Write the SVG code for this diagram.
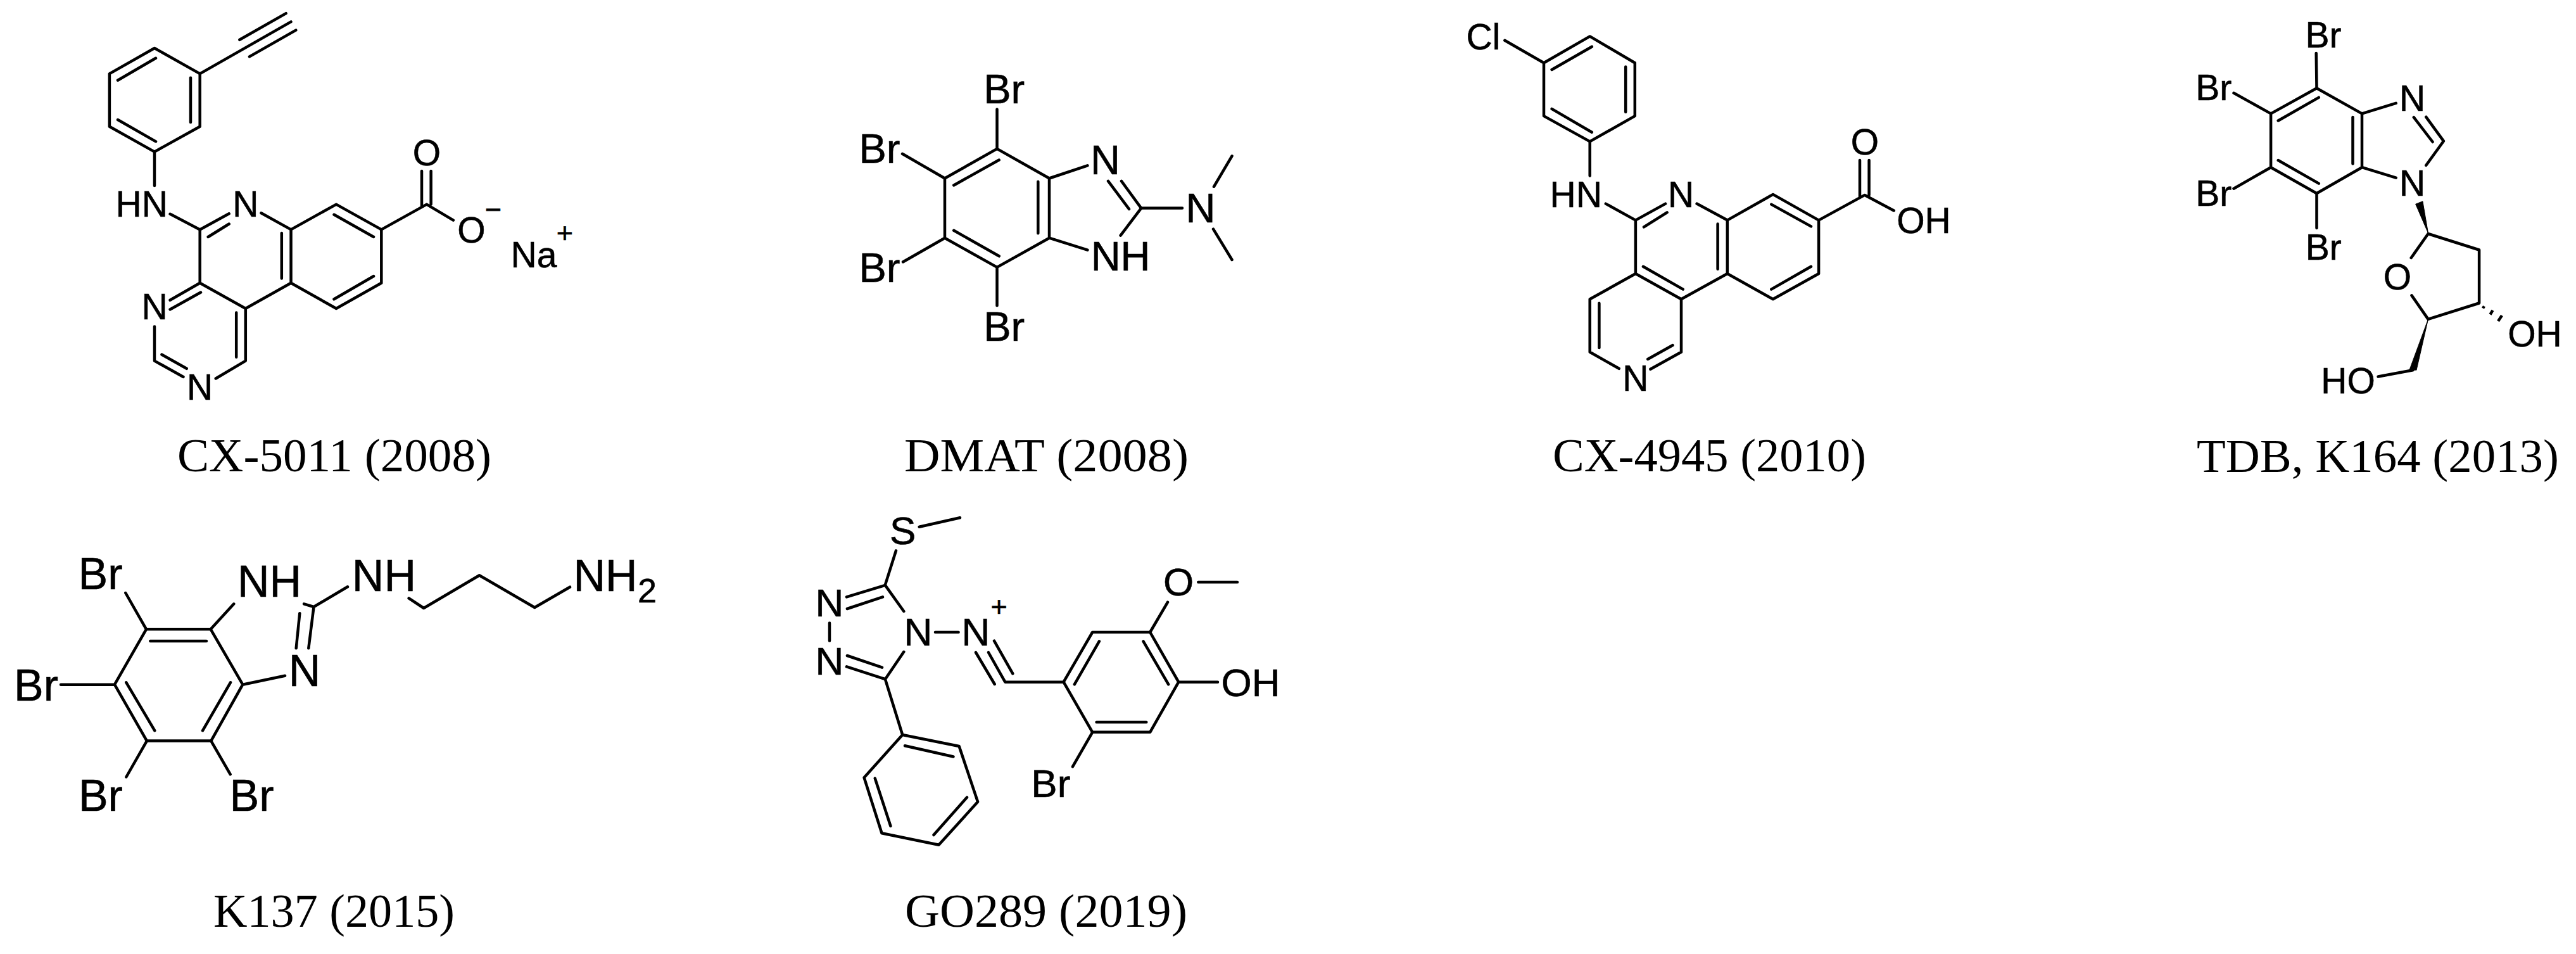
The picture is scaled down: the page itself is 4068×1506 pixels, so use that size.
<svg xmlns="http://www.w3.org/2000/svg" width="4068" height="1506" viewBox="0 0 4068 1506">
<style>
.b{fill:none;stroke:#000;stroke-width:4.5;stroke-linecap:round;stroke-linejoin:round}
.w{fill:#000;stroke:#000;stroke-width:1;stroke-linejoin:round}
text{fill:#000}
.a{font-family:"Liberation Sans",Arial,sans-serif;text-anchor:middle;stroke:#000;stroke-width:.6}
.s57{font-size:57px}.s65{font-size:65px}.s70{font-size:70px}.s62{font-size:62px}.s45{font-size:45px}.s54{font-size:54px}
.c{font-family:"Liberation Serif","Times New Roman",serif;font-size:75px}
</style>
<rect width="4068" height="1506" fill="#fff"/>
<g id="cx5011">
<path class="b" d="M244 76L315.7 116.4L315.7 199.8L244 239.6L172.9 199.8L172.9 116.4Z M186 126.7L246 91.8 M301 122.8L301 193 M186 189L246 223.4
M315.7 116.4L459.5 34.4 M378.4 62.8L451.6 21.1 M394 89.4L467.3 47.6 M244 239.6L244 293
M268.6 337.8L315.7 362.4L361.7 337.3 M328.7 374L361.7 353.5 M412.4 336.3L459.5 362.4L531 322.6L602.3 362.4L602.3 446.8L531 487L459.5 446.8L387.8 487L315.7 446.8L315.7 362.4
M459.5 362.4L459.5 446.8 M444.8 368L444.8 439.5 M527.5 338.8L590 374 M590 436L527.5 472.3
M602.3 362.4L673.8 322.6L715.8 347.6 M666 270L666 326 M680.6 270L680.6 322.6
M315.7 446.8L268.6 473.8 M317 461.5L268.6 488.5 M244 515.5L244 569.6L289.5 595 M255.5 559.7L294.7 581.8 M340.8 597.5L387.8 569.6L387.8 487 M373.2 493.5L373.2 563.7"/>
<text class="a s57" x="223.7" y="342">HN</text>
<text class="a s57" x="387.8" y="342">N</text>
<text class="a s57" x="673.8" y="261">O</text>
<text class="a s57" x="744.5" y="383">O</text>
<text class="a s45" x="779" y="346">−</text>
<text class="a s57" x="843" y="422">Na</text>
<text class="a s45" x="892" y="383">+</text>
<text class="a s57" x="244" y="503.6">N</text>
<text class="a s57" x="315.7" y="631">N</text>
<text class="c" x="280" y="744" textLength="496" lengthAdjust="spacingAndGlyphs">CX-5011 (2008)</text>
</g>
<g id="dmat">
<path class="b" d="M1574.5 234.9L1657 281.5L1657 375.7L1574.5 421.9L1492 375.7L1492 281.5Z M1574.5 172.4L1574.5 234.9 M1425 242.8L1492 281.5 M1426 413.5L1492 375.7 M1574.5 482.6L1574.5 421.9
M1506.2 292.5L1577.7 252.5 M1506.2 363.8L1577.7 404.3 M1639.3 286.8L1639.3 368.2
M1657 281.5L1717.4 261.3 M1657 375.7L1717.4 394.6 M1771 285.9L1802.2 328.6L1769.6 371.7 M1783 330L1750 285.9 M1802.2 328.6L1867 328.6 M1917 294.7L1945.5 246.3 M1916 361.6L1945.5 410"/>
<text class="a s65" x="1585.7" y="163">Br</text>
<text class="a s65" x="1389" y="256.5">Br</text>
<text class="a s65" x="1389" y="444.5">Br</text>
<text class="a s65" x="1585.7" y="538">Br</text>
<text class="a s65" x="1745.5" y="275">N</text>
<text class="a s65" x="1769.6" y="427">NH</text>
<text class="a s65" x="1896" y="351">N</text>
<text class="c" x="1428" y="744" textLength="449" lengthAdjust="spacingAndGlyphs">DMAT (2008)</text>
</g>
<g id="cx4945">
<path class="b" d="M2510.7 57.4L2581.8 99.2L2581.8 183.1L2510.7 223.4L2438 183.1L2438 99.2Z M2376.3 63.8L2438 99.2 M2450.6 110L2513.8 73.7 M2567.2 105.6L2567.2 176.8 M2450.6 171.9L2513.8 208.7 M2510.7 223.4L2510.7 277.4
M2535.8 321.6L2582.9 347.6L2630 321.6 M2596 358.4L2632.6 335.4 M2679.6 321.6L2727.8 347.6L2799.9 306.9L2872.1 347.6L2872.1 432L2799.9 472.3L2727.8 432L2727.8 347.6
M2712.6 353.5L2712.6 424.7 M2797.3 322.6L2860 357.4 M2797.3 456.6L2860 420.8
M2872.1 347.6L2944.8 307.9L2990.8 332.4 M2937 252.9L2937 311 M2951.6 252.9L2951.6 307.9
M2582.9 347.6L2582.9 432L2655 472.3L2727.8 432 M2594.9 420.8L2657.7 456.6 M2655 472.3L2655 555.8L2606.4 582.8 M2641.5 545L2602.2 567 M2556.7 581.8L2510.7 555.8L2510.7 472.3L2582.9 432 M2525.4 478.7L2525.4 549"/>
<text class="a s57" x="2342.3" y="78">Cl</text>
<text class="a s57" x="2488.7" y="327">HN</text>
<text class="a s57" x="2654.5" y="327">N</text>
<text class="a s57" x="2944.8" y="243.5">O</text>
<text class="a s57" x="3038" y="367.5">OH</text>
<text class="a s57" x="2582.9" y="616.5">N</text>
<text class="c" x="2452" y="744" textLength="495" lengthAdjust="spacingAndGlyphs">CX-4945 (2010)</text>
</g>
<g id="tdb">
<path class="b" d="M3658.5 139.2L3730 179.4L3730 264.2L3658.5 305.3L3586.1 264.2L3586.1 179.4Z M3657.7 84L3658.5 139.2 M3527.5 146.8L3586.1 179.4 M3527.5 297.7L3586.1 264.2 M3658.5 305.3L3658.5 360
M3597.7 190.5L3661.8 153.9 M3597.7 253L3661.8 289.6 M3715.5 185L3715.5 258.4
M3730 179.4L3783.7 162.9 M3730 264.2L3783.7 280.7 M3831.2 184.7L3858.9 222.7L3831.2 261 M3841.6 224L3811.8 185.2
M3807.7 407L3834.5 369L3915.1 394.5L3915.1 478.5L3834.5 503.9L3808.5 466.4 M3810.6 584.3L3755.6 594.5"/>
<path class="w" d="M3834.5 368L3814.7 322.2L3825.9 317.8Z"/>
<path class="w" d="M3834.5 503.9L3805.2 583.4L3816 584.3Z"/>
<path class="b" style="stroke-linecap:butt" d="M3923 483.4L3921 486.6 M3936.5 489.9L3932.5 496.5 M3951 498L3945 507"/>
<text class="a s57" x="3669" y="75">Br</text>
<text class="a s57" x="3495.7" y="158">Br</text>
<text class="a s57" x="3495.7" y="325">Br</text>
<text class="a s57" x="3669.2" y="409.7">Br</text>
<text class="a s57" x="3809.7" y="175">N</text>
<text class="a s57" x="3809.7" y="309">N</text>
<text class="a s57" x="3785.8" y="456.5">O</text>
<text class="a s57" x="4003" y="546.5">OH</text>
<text class="a s57" x="3708" y="620.5">HO</text>
<text class="c" x="3469" y="745" textLength="572" lengthAdjust="spacingAndGlyphs">TDB, K164 (2013)</text>
</g>
<g id="k137">
<path class="b" d="M231 993.3L332.7 993.3L383.3 1080.7L333.3 1169.6L231.9 1169.6L181 1080.7Z M237.3 1012L326 1012 M199.3 1077.3L244.3 1153.3 M364 1077.3L320 1153.3
M198.3 936L231 993.3 M96 1080.7L181 1080.7 M231.9 1169.6L199.4 1226.5 M333.3 1169.6L363.7 1222.3 M332.7 993.3L369.3 953.3
M480 953.3L495.5 958L549 926.3 M495.5 958L487.3 1023.3 M473.3 968.3L467.7 1023.3 M383.3 1080.7L450 1066.7 M645.6 944.4L669.2 960L757 908.2L844.3 959L900 926.7"/>
<text class="a s70" x="158.5" y="930">Br</text>
<text class="a s70" x="57" y="1106">Br</text>
<text class="a s70" x="158.9" y="1280">Br</text>
<text class="a s70" x="397.5" y="1280">Br</text>
<text class="a s70" x="425.5" y="941.7">NH</text>
<text class="a s70" x="606.4" y="932.7">NH</text>
<text class="a s70" x="481" y="1083">N</text>
<text class="a s70" x="956" y="932.7">NH</text>
<text class="a s54" x="1022" y="950.7">2</text>
<text class="c" x="337" y="1463" textLength="381" lengthAdjust="spacingAndGlyphs">K137 (2015)</text>
</g>
<g id="go289">
<path class="b" d="M1451.7 831.7L1516 817.3 M1415 869.3L1397.7 923.9 M1337 942.4L1397.9 923.9L1427.3 965 M1394 942.4L1337.9 961 M1310 983.6L1310 1011.6 M1337 1052.4L1397.9 1072.2L1427.3 1029 M1393 1053.6L1337.9 1035
M1477 998L1513.6 998 M1570 1011.7L1599.3 1063.3 M1561 1030L1587.3 1076.7L1679.6 1076.7 M1541 1030L1570.7 1080
M1679.6 1076.7L1725.2 998L1816.2 998L1861.2 1076.7L1816.2 1155.8L1725.2 1155.8Z M1696.8 1080.4L1735.9 1012.4 M1805.5 1012.4L1845.2 1080.4 M1731.6 1140L1810.3 1140
M1816.2 998L1844 950.6 M1892.3 918.9L1954 918.9 M1861.2 1076.7L1923 1076.7 M1725.2 1155.8L1694 1210.2
M1397.9 1072.2L1425.2 1160L1514.6 1178L1544.1 1265.8L1482.5 1333.8L1392.5 1315.3L1364.6 1227.5L1425.2 1160 M1429 1177.2L1505.5 1194.5 M1381.8 1228.7L1406.4 1304 M1527 1258.8L1474.5 1318"/>
<text class="a s62" x="1425.7" y="859">S</text>
<text class="a s62" x="1310" y="973">N</text>
<text class="a s62" x="1310" y="1064.5">N</text>
<text class="a s62" x="1450" y="1018.7">N</text>
<text class="a s62" x="1541" y="1018.7">N</text>
<text class="a s45" x="1577.7" y="973">+</text>
<text class="a s62" x="1861.2" y="940">O</text>
<text class="a s62" x="1975" y="1098.7">OH</text>
<text class="a s62" x="1659.3" y="1258">Br</text>
<text class="c" x="1429" y="1463" textLength="446" lengthAdjust="spacingAndGlyphs">GO289 (2019)</text>
</g>
</svg>
